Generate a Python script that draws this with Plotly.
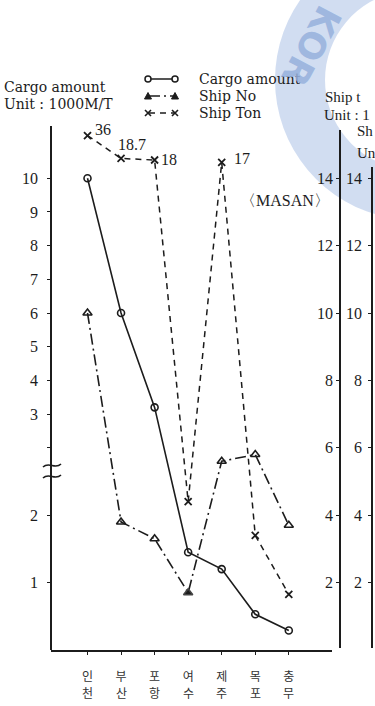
import math
import plotly.graph_objects as go

W, H = 375, 706

# ---- data -------------------------------------------------------------
PORTS = ["인천", "부산", "포항", "여수", "제주", "목포", "충무"]
CARGO = [10.0, 6.0, 3.2, 1.45, 1.2, 0.53, 0.29]      # unit: 1000 M/T
SHIP_NO = [10.0, 3.8, 3.3, 1.7, 5.6, 5.8, 3.7]
SHIP_TON = [36, 18.7, 18, 4.4, 17, 3.4, 1.65]

LEFT_TICKS_LOWER = [1, 2]
LEFT_TICKS_UPPER = [2, 3, 4, 5, 6, 7, 8, 9, 10]     # the upper "2" is left unlabeled
RIGHT_TICKS = [2, 4, 6, 8, 10, 12, 14]

# ---- geometry helpers -------------------------------------------------
S = 33.7          # pixels per unit on the ship axes
Y0 = 650          # pixel row of the zero line / category axis
X0, DX = 87.5, 33.55

SERIF = "Liberation Serif, Times New Roman, serif"
WIDE_SERIF = "DejaVu Serif, serif"
KR = "Noto Sans CJK KR"
INK = "#1c1c1c"

CARGO_DASH = "solid"
SHIPNO_DASH = "11px,4px,2px,4px"
SHIPTON_DASH = "6px,5px"


def pxx(x):
    return x / W


def pxy(y):
    return 1 - y / H


def ydomain(bottom_px, top_px):
    return [1 - bottom_px / H, 1 - top_px / H]


def yrange(bottom_px, top_px):
    return [(Y0 - bottom_px) / S, (Y0 - top_px) / S]


# cargo axis is broken: 0-2.65 drawn at double scale, above that at single scale
BREAK = 2.65


def cargo_pos(v):
    return 2 * v if v <= BREAK else v + 4


# ship-ton values above the axis top are squeezed into the strip above 14
def ton_pos(v):
    return v if v <= 14 else 14 + 0.27 * math.sqrt(v - 14)


idx = list(range(len(PORTS)))

fig = go.Figure()

fig.add_trace(go.Scatter(
    x=idx, y=[cargo_pos(v) for v in CARGO], yaxis="y",
    name="Cargo amount", mode="lines+markers",
    line=dict(color=INK, width=1.6, dash=CARGO_DASH),
    marker=dict(symbol="circle-open", size=7, color=INK, line=dict(width=1.6)),
    cliponaxis=False,
))

fig.add_trace(go.Scatter(
    x=idx, y=SHIP_NO, yaxis="y3",
    name="Ship No", mode="lines+markers",
    line=dict(color=INK, width=1.6, dash=SHIPNO_DASH),
    marker=dict(symbol=["triangle-up-open"] * 3 + ["triangle-up"] + ["triangle-up-open"] * 3,
                size=8, color=INK, line=dict(width=1.6)),
    cliponaxis=False,
))

fig.add_trace(go.Scatter(
    x=idx, y=[ton_pos(v) for v in SHIP_TON], yaxis="y2",
    name="Ship Ton", mode="lines+markers",
    line=dict(color=INK, width=1.5, dash=SHIPTON_DASH),
    marker=dict(symbol="x-thin-open", size=7, color=INK, line=dict(width=1.8)),
    cliponaxis=False,
))

# ---- axes ---------------------------------------------------------------
left_vals = [cargo_pos(v) for v in LEFT_TICKS_LOWER] + [v + 4 for v in LEFT_TICKS_UPPER]
left_text = [str(v) for v in LEFT_TICKS_LOWER] + ["" if v == 2 else str(v) for v in LEFT_TICKS_UPPER]

axis_common = dict(
    showline=True, linecolor=INK, linewidth=1.6, showgrid=False, zeroline=False,
    ticks="outside", ticklen=3, tickwidth=1.4, tickcolor=INK,
    tickfont=dict(family=SERIF, size=16, color=INK),
)

fig.update_layout(
    width=W, height=H,
    margin=dict(l=0, r=0, t=0, b=0),
    paper_bgcolor="white", plot_bgcolor="rgba(0,0,0,0)",
    showlegend=False,
    xaxis=dict(
        domain=[pxx(51), pxx(332)], range=[(51 - X0) / DX, (332 - X0) / DX],
        anchor="y", showline=True, linecolor=INK, linewidth=1.6,
        showgrid=False, zeroline=False,
        tickvals=idx, ticktext=[p[0] for p in PORTS],
        ticks="outside", ticklen=3, tickwidth=1.4, tickcolor=INK,
        ticklabelstandoff=12,
        tickfont=dict(family=KR, size=12, color="#333"),
    ),
    yaxis=dict(
        domain=ydomain(650, 126), range=yrange(650, 126),
        anchor="free", position=pxx(51), side="left",
        tickvals=left_vals, ticktext=left_text, ticklabelstandoff=6,
        **axis_common,
    ),
    yaxis2=dict(
        domain=ydomain(648, 130), range=yrange(648, 130),
        anchor="free", position=pxx(340), side="left",
        tickvals=RIGHT_TICKS, ticktext=[str(v) for v in RIGHT_TICKS],
        **axis_common,
    ),
    yaxis3=dict(
        domain=ydomain(648, 167), range=yrange(648, 167),
        anchor="free", position=pxx(372), side="left",
        tickvals=RIGHT_TICKS, ticktext=[str(v) for v in RIGHT_TICKS],
        ticklabelstandoff=3,
        **axis_common,
    ),
)

# ---- text ---------------------------------------------------------------
ann = []


def label(text, x, y, size=14, anchor="left", family=WIDE_SERIF, **kw):
    ann.append(dict(text=text, x=pxx(x), y=pxy(y), xref="paper", yref="paper",
                    xanchor=anchor, yanchor="middle", showarrow=False,
                    font=dict(family=family, size=size, color=INK), **kw))


label("Cargo amount", 2, 87)
label("Unit : 1000M/T", 2, 104)
# right-hand axis headings run off the page edge
label("Ship t", 323, 97, family=SERIF, size=15)
label("Unit : 1", 322, 115, family=SERIF, size=15)
label("Sh", 355, 131, family=SERIF, size=15)
label("Un", 355, 153, family=SERIF, size=15)
label("〈MASAN〉", 238, 200, size=16, family=SERIF)

# second syllable of each port name, on a row under the tick labels
for i, p in enumerate(PORTS):
    ann.append(dict(text=p[1], x=i, y=pxy(692), xref="x", yref="paper",
                    xanchor="center", yanchor="middle", showarrow=False,
                    font=dict(family=KR, size=12, color="#333")))

# values of the off-scale ship-ton points
offsets = {0: (5, 6), 1: (11, 14), 2: (4, 1), 4: (10, 4)}
for i, v in enumerate(SHIP_TON):
    if v > 14:
        dx, dy = offsets[i]
        ann.append(dict(text=f"{v:g}", x=i, y=ton_pos(v), xref="x", yref="y2",
                        xanchor="left" if i != 1 else "center", yanchor="middle",
                        xshift=dx, yshift=dy, showarrow=False,
                        font=dict(family=SERIF, size=16, color=INK)))

# key: sample line with a symbol at each end, then the series name
KEY = [("Cargo amount", CARGO_DASH, "circle", 79),
       ("Ship No", SHIPNO_DASH, "triangle", 96),
       ("Ship Ton", SHIPTON_DASH, "x", 113)]
for name, _, _, ky in KEY:
    label(name, 197, ky, size=14)

# faint seal watermark
ann.append(dict(text="<b>KOR</b>", x=pxx(312), y=pxy(46), xref="paper", yref="paper",
                xanchor="center", yanchor="middle", textangle=118, showarrow=False,
                font=dict(family="DejaVu Sans", size=36, color="rgba(150,176,220,0.85)")))

fig.update_layout(annotations=ann)

# ---- shapes: watermark ring, key glyphs and axis break marks ------------
cx, cy, r_out, r_in = 415, 80, 140, 90


def circle_path(r, n=72, reverse=False):
    pts = []
    rng = range(n, -1, -1) if reverse else range(n + 1)
    for k in rng:
        a = 2 * math.pi * k / n
        pts.append((pxx(cx + r * math.cos(a)), pxy(cy + r * math.sin(a))))
    return "M " + " L ".join(f"{x:.5f},{y:.5f}" for x, y in pts) + " Z"


ring = circle_path(r_out) + " " + circle_path(r_in, reverse=True)
shapes = [dict(type="path", path=ring, xref="paper", yref="paper", layer="below",
               fillcolor="rgba(198,213,238,0.8)", line=dict(width=0), fillrule="evenodd")]


def key_symbol(kind, x, y):
    r = 3
    if kind == "circle":
        return dict(type="circle", xref="paper", yref="paper",
                    x0=pxx(x - r), x1=pxx(x + r), y0=pxy(y + r), y1=pxy(y - r),
                    fillcolor="white", line=dict(color=INK, width=1.5))
    if kind == "triangle":
        p = (f"M {pxx(x - 3.5):.5f},{pxy(y + 3):.5f} L {pxx(x + 3.5):.5f},{pxy(y + 3):.5f} "
             f"L {pxx(x):.5f},{pxy(y - 3.5):.5f} Z")
        return dict(type="path", path=p, xref="paper", yref="paper",
                    fillcolor=INK, line=dict(color=INK, width=1))
    p = (f"M {pxx(x - 3):.5f},{pxy(y - 3):.5f} L {pxx(x + 3):.5f},{pxy(y + 3):.5f} "
         f"M {pxx(x - 3):.5f},{pxy(y + 3):.5f} L {pxx(x + 3):.5f},{pxy(y - 3):.5f}")
    return dict(type="path", path=p, xref="paper", yref="paper",
                line=dict(color=INK, width=1.6))


for _, dash, kind, ky in KEY:
    shapes.append(dict(type="line", xref="paper", yref="paper",
                       x0=pxx(149), x1=pxx(174), y0=pxy(ky), y1=pxy(ky),
                       line=dict(color=INK, width=1.5, dash=dash)))
    shapes.append(key_symbol(kind, 148, ky))
    shapes.append(key_symbol(kind, 175, ky))

for yb in (465, 476):
    x1, x2 = 43, 61
    p = (f"M {pxx(x1):.5f},{pxy(yb + 2):.5f} "
         f"C {pxx(x1 + 6):.5f},{pxy(yb - 4):.5f} {pxx(x2 - 6):.5f},{pxy(yb + 5):.5f} "
         f"{pxx(x2):.5f},{pxy(yb - 1):.5f}")
    shapes.append(dict(type="path", path=p, xref="paper", yref="paper",
                       line=dict(color=INK, width=1.6)))

fig.update_layout(shapes=shapes)

fig.write_html("out.html")
